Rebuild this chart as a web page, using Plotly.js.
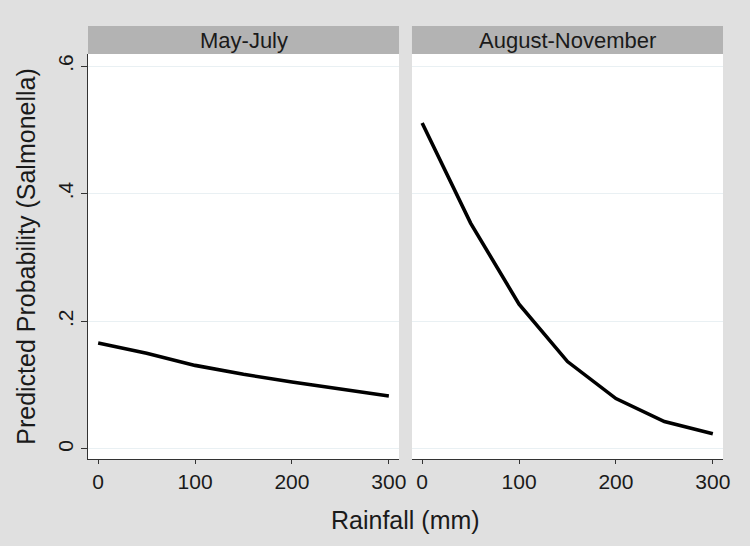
<!DOCTYPE html>
<html>
<head>
<meta charset="utf-8">
<script src="https://cdn.plot.ly/plotly-3.0.1.min.js"></script>
<style>html,body{margin:0;padding:0;background:#e0e0e0;}</style>
</head>
<body>
<div id="chart" style="width:750px;height:546px;"></div>
<script>
const panelTitles = ["May-July", "August-November"];
const rainfall = [0, 50, 100, 150, 200, 250, 300];
const probMayJuly = [0.166, 0.150, 0.131, 0.117, 0.105, 0.094, 0.083];
const probAugNov = [0.511, 0.354, 0.227, 0.137, 0.079, 0.043, 0.024];
const xTicks = [0, 100, 200, 300];
const yTicks = [0, 0.2, 0.4, 0.6];
const yTickText = ["0", ".2", ".4", ".6"];

const fontFam = 'Arial, "Liberation Sans", sans-serif';
const lineStyle = {color: '#000000', width: 3.6};

const traces = [
  {x: rainfall, y: probMayJuly, xaxis: 'x', yaxis: 'y', mode: 'lines', line: lineStyle, hoverinfo: 'skip'},
  {x: rainfall, y: probAugNov, xaxis: 'x2', yaxis: 'y2', mode: 'lines', line: lineStyle, hoverinfo: 'skip'}
];

const xBase = {
  range: [-10.5, 310.5], tickvals: xTicks, ticktext: xTicks.map(String),
  ticks: 'outside', ticklen: 4, tickwidth: 1, tickcolor: '#333',
  showline: true, linecolor: '#333', linewidth: 1,
  showgrid: false, zeroline: false,
  tickfont: {family: fontFam, size: 21, color: '#1a1a1a'}
};
const yRange = [-0.0157, 0.619];
const hdrH = 28 / 405;

const layout = {
  width: 750, height: 546,
  paper_bgcolor: '#e0e0e0', plot_bgcolor: '#ffffff',
  showlegend: false,
  margin: {l: 88, r: 27, t: 54, b: 87},
  xaxis: Object.assign({}, xBase, {domain: [0, 0.4898], anchor: 'y'}),
  xaxis2: Object.assign({}, xBase, {domain: [0.5102, 1], anchor: 'y2'}),
  yaxis: {
    range: yRange, tickvals: yTicks, ticktext: yTickText, tickangle: -90,
    ticks: 'outside', ticklen: 6, tickwidth: 1, tickcolor: '#333',
    showline: true, linecolor: '#333', linewidth: 1,
    showgrid: true, gridcolor: '#e9f0f3', gridwidth: 1, zeroline: false,
    tickfont: {family: fontFam, size: 21, color: '#1a1a1a'},
    anchor: 'x',
    title: {text: 'Predicted Probability (Salmonella)', font: {family: fontFam, size: 25, color: '#1a1a1a'}, standoff: 10}
  },
  yaxis2: {
    range: yRange, tickvals: yTicks, showticklabels: false, ticks: '',
    showline: false, showgrid: true, gridcolor: '#e9f0f3', gridwidth: 1, zeroline: false,
    anchor: 'x2', matches: 'y'
  },
  shapes: [
    {type: 'rect', xref: 'x domain', yref: 'paper', x0: 0, x1: 1, y0: 1, y1: 1 + hdrH, fillcolor: '#b3b3b3', line: {width: 0}},
    {type: 'rect', xref: 'x2 domain', yref: 'paper', x0: 0, x1: 1, y0: 1, y1: 1 + hdrH, fillcolor: '#b3b3b3', line: {width: 0}}
  ],
  annotations: [
    {text: panelTitles[0], xref: 'x domain', yref: 'paper', x: 0.5, y: 1 + hdrH / 2, showarrow: false, xanchor: 'center', yanchor: 'middle', font: {family: fontFam, size: 22, color: '#1a1a1a'}},
    {text: panelTitles[1], xref: 'x2 domain', yref: 'paper', x: 0.5, y: 1 + hdrH / 2, showarrow: false, xanchor: 'center', yanchor: 'middle', font: {family: fontFam, size: 22, color: '#1a1a1a'}},
    {text: 'Rainfall (mm)', xref: 'paper', yref: 'paper', x: 0.5, y: -61 / 405, showarrow: false, xanchor: 'center', yanchor: 'middle', font: {family: fontFam, size: 25, color: '#1a1a1a'}}
  ]
};

Plotly.newPlot('chart', traces, layout, {staticPlot: true, displayModeBar: false});
</script>
</body>
</html>
